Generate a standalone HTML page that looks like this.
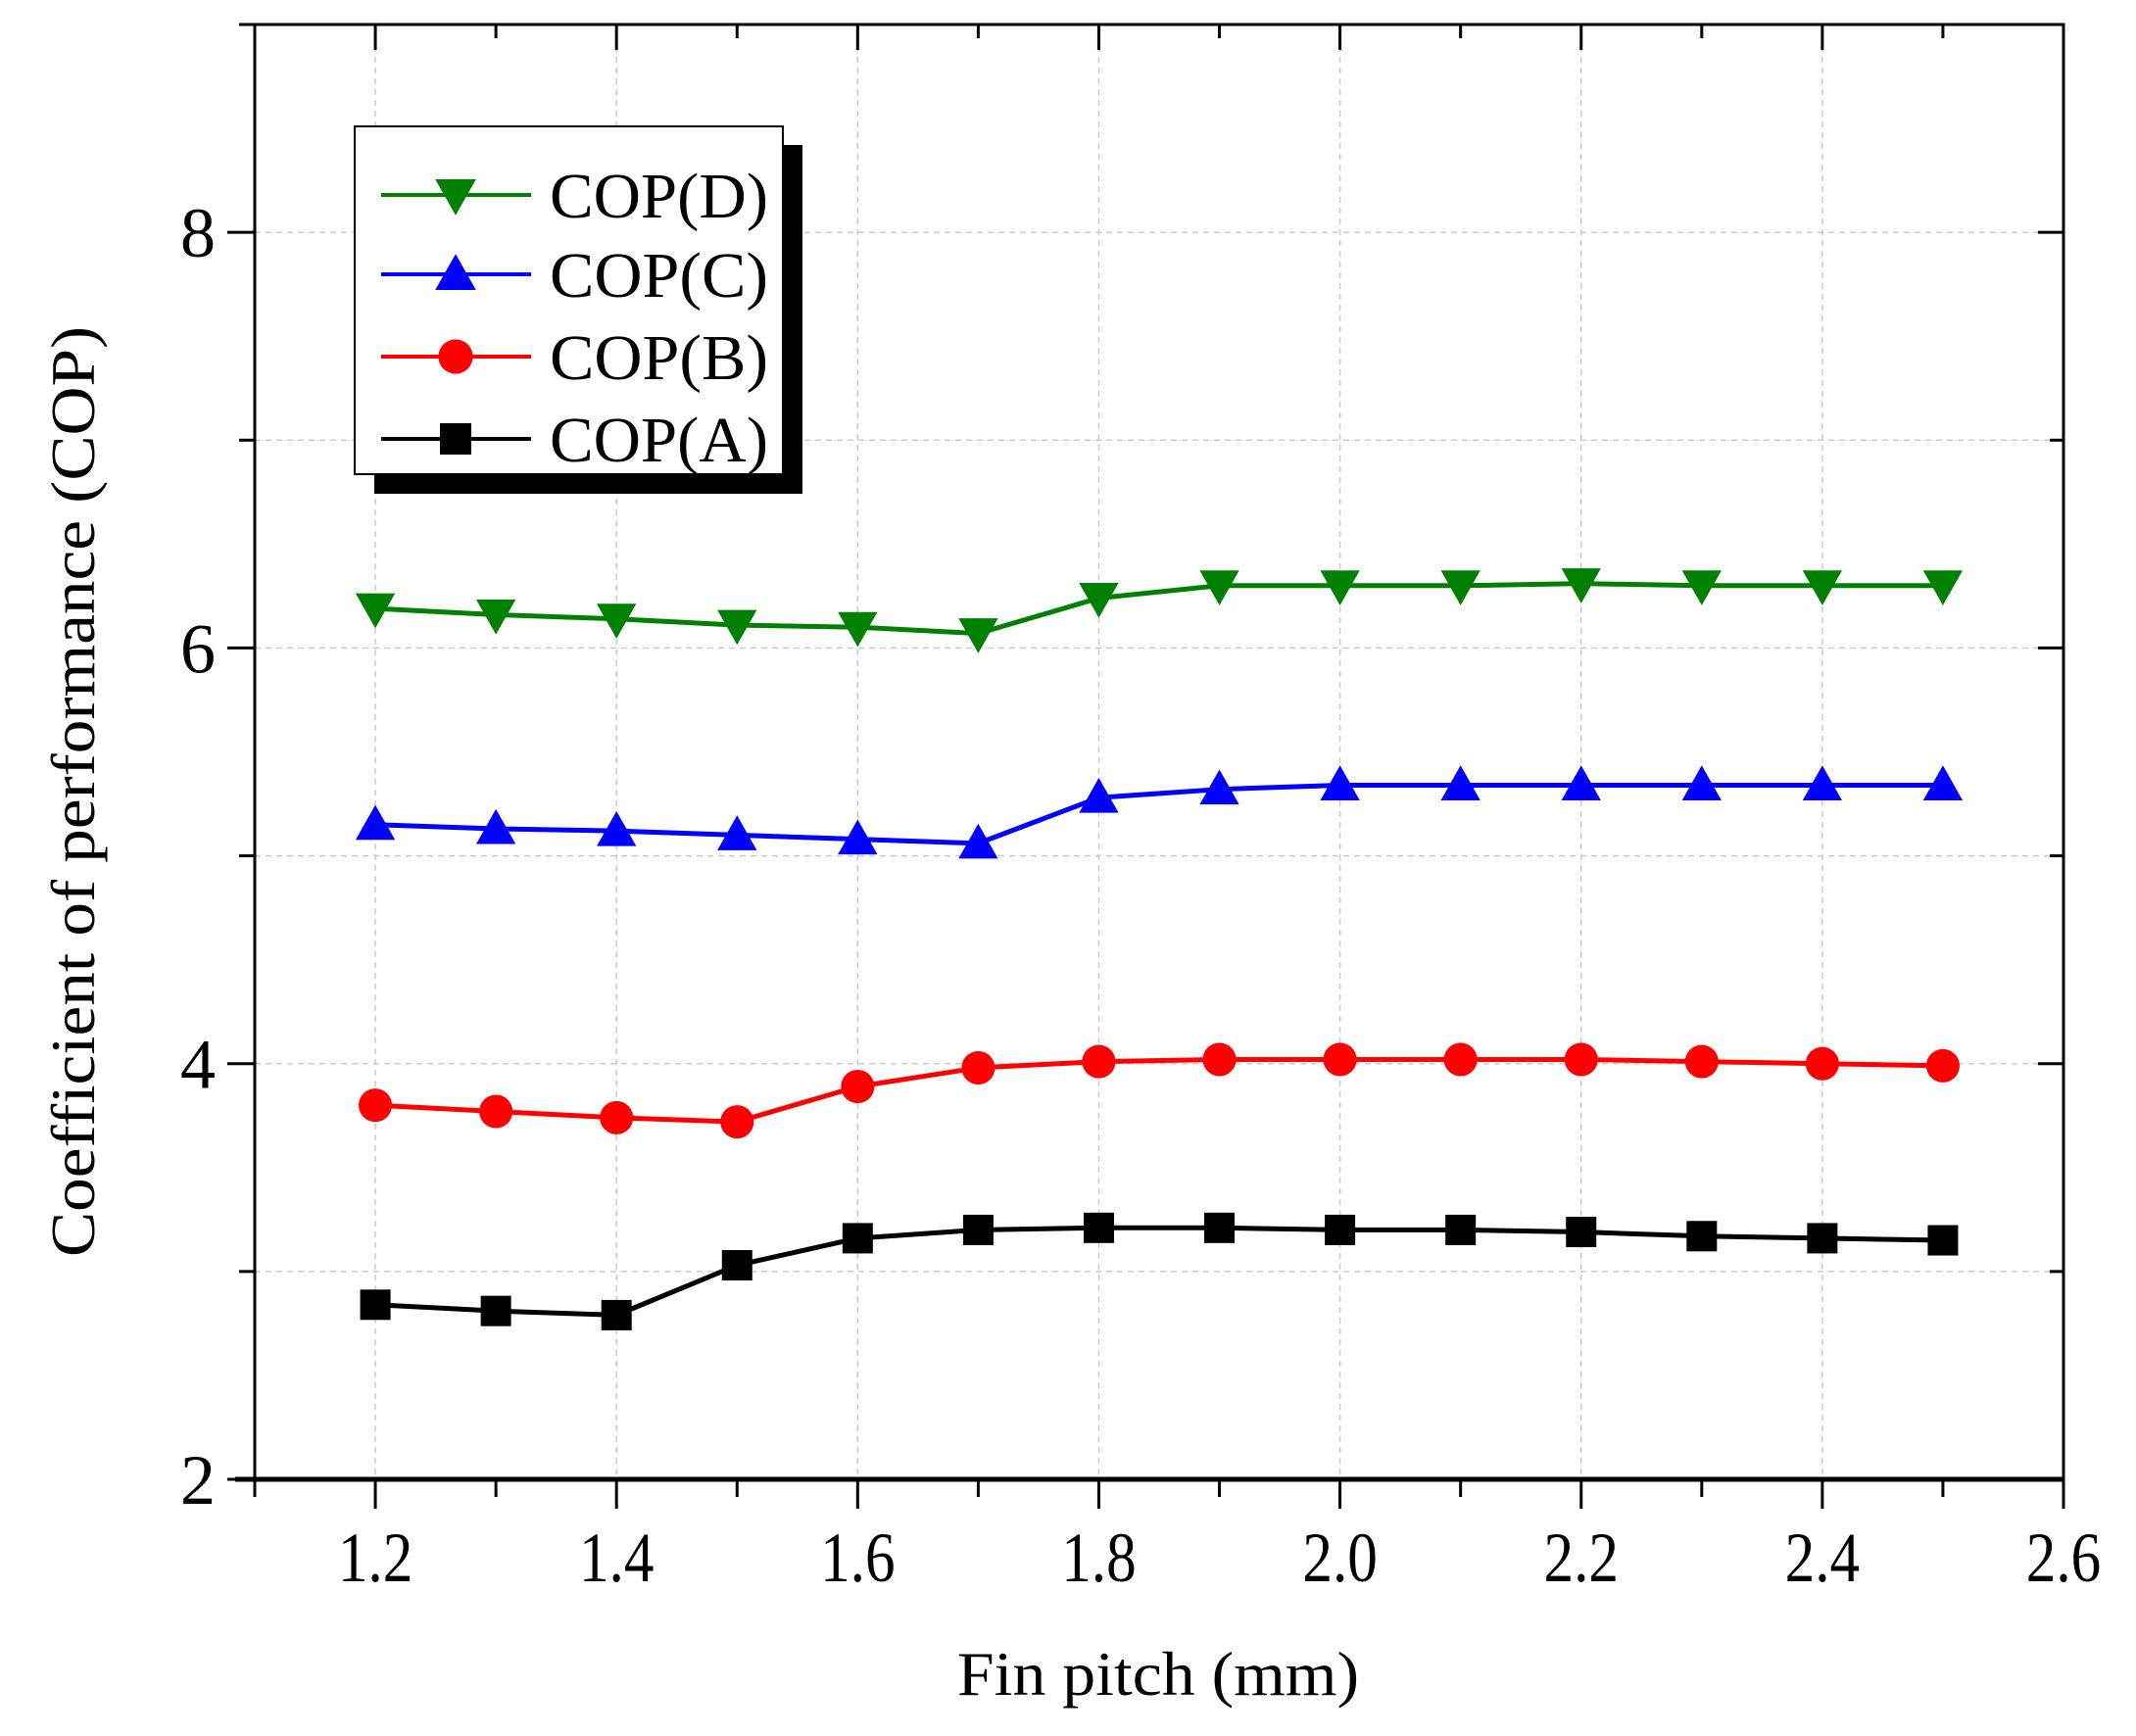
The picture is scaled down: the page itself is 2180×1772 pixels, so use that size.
<!DOCTYPE html>
<html><head><meta charset="utf-8"><style>
html,body{margin:0;padding:0;background:#fff;}
svg{display:block;font-family:"Liberation Serif",serif;}
</style></head><body>
<svg id="chart" width="2180" height="1772" viewBox="0 0 2180 1772" xmlns="http://www.w3.org/2000/svg">
<g id="grid"></g>
<g id="series"></g>
<g id="axes"></g>
<g id="legend"></g>
</svg>
<script>
const xValues=[1.2,1.3,1.4,1.5,1.6,1.7,1.8,1.9,2.0,2.1,2.2,2.3,2.4,2.5];
const copD=[6.19,6.16,6.14,6.11,6.10,6.07,6.24,6.30,6.30,6.30,6.31,6.30,6.30,6.30];
const copC=[5.15,5.13,5.12,5.10,5.08,5.06,5.28,5.32,5.34,5.34,5.34,5.34,5.34,5.34];
const copB=[3.80,3.77,3.74,3.72,3.89,3.98,4.01,4.02,4.02,4.02,4.02,4.01,4.00,3.99];
const copA=[2.84,2.81,2.79,3.03,3.16,3.20,3.21,3.21,3.20,3.20,3.19,3.17,3.16,3.15];
const xTicks=["1.2","1.4","1.6","1.8","2.0","2.2","2.4","2.6"];
const yTicks=["2","4","6","8"];
const X0=260,X1=2106,Y0=1510,Y1=25,XMIN=1.1,XMAX=2.6,YMIN=2,YMAX=9;
const sx=v=>X0+(v-XMIN)/(XMAX-XMIN)*(X1-X0);
const sy=v=>Y0-(v-YMIN)/(YMAX-YMIN)*(Y0-Y1);
const NS="http://www.w3.org/2000/svg";
function mk(tag,attrs,parent){const e=document.createElementNS(NS,tag);for(const k in attrs)e.setAttribute(k,attrs[k]);parent.appendChild(e);return e;}
const grid=document.getElementById('grid'),axes=document.getElementById('axes'),ser=document.getElementById('series'),leg=document.getElementById('legend');
for(let i=0;i<xTicks.length;i++){const x=sx(parseFloat(xTicks[i]));const l=mk('line',{x1:x,x2:x,y1:Y1,y2:Y0,stroke:'#ccc','stroke-width':1.5,'stroke-dasharray':'6,5'},grid);

}
for(let v=3;v<=8;v++){const y=sy(v);const l=mk('line',{x1:X0,x2:X1,y1:y,y2:y,stroke:'#ccc','stroke-width':1.5,'stroke-dasharray':'6,5'},grid);

}
const series=[{d:copA,c:'#000',m:'square',n:'cop-a'},{d:copB,c:'#ff0000',m:'circle',n:'cop-b'},{d:copC,c:'#0000ff',m:'up',n:'cop-c'},{d:copD,c:'#008000',m:'down',n:'cop-d'}];
function marker(type,x,y,c,s,parent){let e;
 if(type==='square')e=mk('rect',{x:x-s*0.5,y:y-s*0.5,width:s,height:s,fill:c},parent);
 else if(type==='circle')e=mk('circle',{cx:x,cy:y,r:s*0.55,fill:c},parent);
 else if(type==='up')e=mk('polygon',{points:`${x-s*0.65},${y+s*0.5} ${x+s*0.65},${y+s*0.5} ${x},${y-s*0.65}`,fill:c},parent);
 else e=mk('polygon',{points:`${x-s*0.65},${y-s*0.5} ${x+s*0.65},${y-s*0.5} ${x},${y+s*0.65}`,fill:c},parent);
 return e;}
series.forEach(s=>{
 const pts=s.d.map((v,i)=>sx(xValues[i])+','+sy(v)).join(' ');
 const pl=mk('polyline',{points:pts,fill:'none',stroke:s.c,'stroke-width':5},ser);
 
 
 s.d.forEach((v,i)=>{const m=marker(s.m,sx(xValues[i]),sy(v),s.c,31,ser);
  
  });
});
const fr=mk('rect',{x:X0,y:Y1,width:X1-X0,height:Y0-Y1,fill:'none',stroke:'#000','stroke-width':3},axes);


mk('line',{x1:X0-20,x2:X1,y1:Y0,y2:Y0,stroke:'#000','stroke-width':5},axes);
for(let v=1.1;v<=2.601;v+=0.1){const x=sx(v);const major=Math.round(v*10)%2===0;
 mk('line',{x1:x,x2:x,y1:Y0,y2:Y0+(major?30:18),stroke:'#000','stroke-width':3},axes);
 mk('line',{x1:x,x2:x,y1:Y1,y2:Y1+(major?26:14),stroke:'#000','stroke-width':3},axes);}
xTicks.forEach(t=>{const x=sx(parseFloat(t));const e=mk('text',{x:x,y:1614,'font-size':72,'text-anchor':'middle',transform:`translate(${x*0.15},0) scale(0.85,1)`},axes);
 e.textContent=t;
 
 });
for(let v=2;v<=9;v++){const y=sy(v);const major=v%2===0;
 mk('line',{x1:X0-(major?28:16),x2:X0,y1:y,y2:y,stroke:'#000','stroke-width':3},axes);
 mk('line',{x1:X1-(major?26:14),x2:X1,y1:y,y2:y,stroke:'#000','stroke-width':3},axes);}
yTicks.forEach(t=>{const e=mk('text',{x:220,y:sy(parseFloat(t))+25,'font-size':72,'text-anchor':'end'},axes);
 e.textContent=t;
 
 });
const xt=mk('text',{x:1182,y:1730,'font-size':64,'text-anchor':'middle',textLength:410,lengthAdjust:'spacingAndGlyphs'},axes);
xt.textContent='Fin pitch (mm)';


const yt=mk('text',{x:0,y:0,'font-size':64,'text-anchor':'middle',textLength:950,lengthAdjust:'spacingAndGlyphs',transform:'translate(96,808) rotate(-90)'},axes);
yt.textContent='Coefficient of performance (COP)';


mk('rect',{x:382,y:148,width:437,height:356,fill:'#000'},leg);
const lb=mk('rect',{x:362,y:129,width:437,height:355,fill:'#fff',stroke:'#000','stroke-width':2},leg);


const legItems=[{t:'COP(D)',c:'#008000',m:'down',y:199},{t:'COP(C)',c:'#0000ff',m:'up',y:280},{t:'COP(B)',c:'#ff0000',m:'circle',y:364},{t:'COP(A)',c:'#000',m:'square',y:448}];
legItems.forEach(it=>{
 const g=mk('g',{},leg);
 
 
 mk('line',{x1:389,x2:542,y1:it.y,y2:it.y,stroke:it.c,'stroke-width':4},g);
 marker(it.m,465,it.y,it.c,32,g);
 const tx=mk('text',{x:561,y:it.y+23,'font-size':66,textLength:223,lengthAdjust:'spacingAndGlyphs'},g);
 tx.textContent=it.t;
});
</script>
</body></html>
